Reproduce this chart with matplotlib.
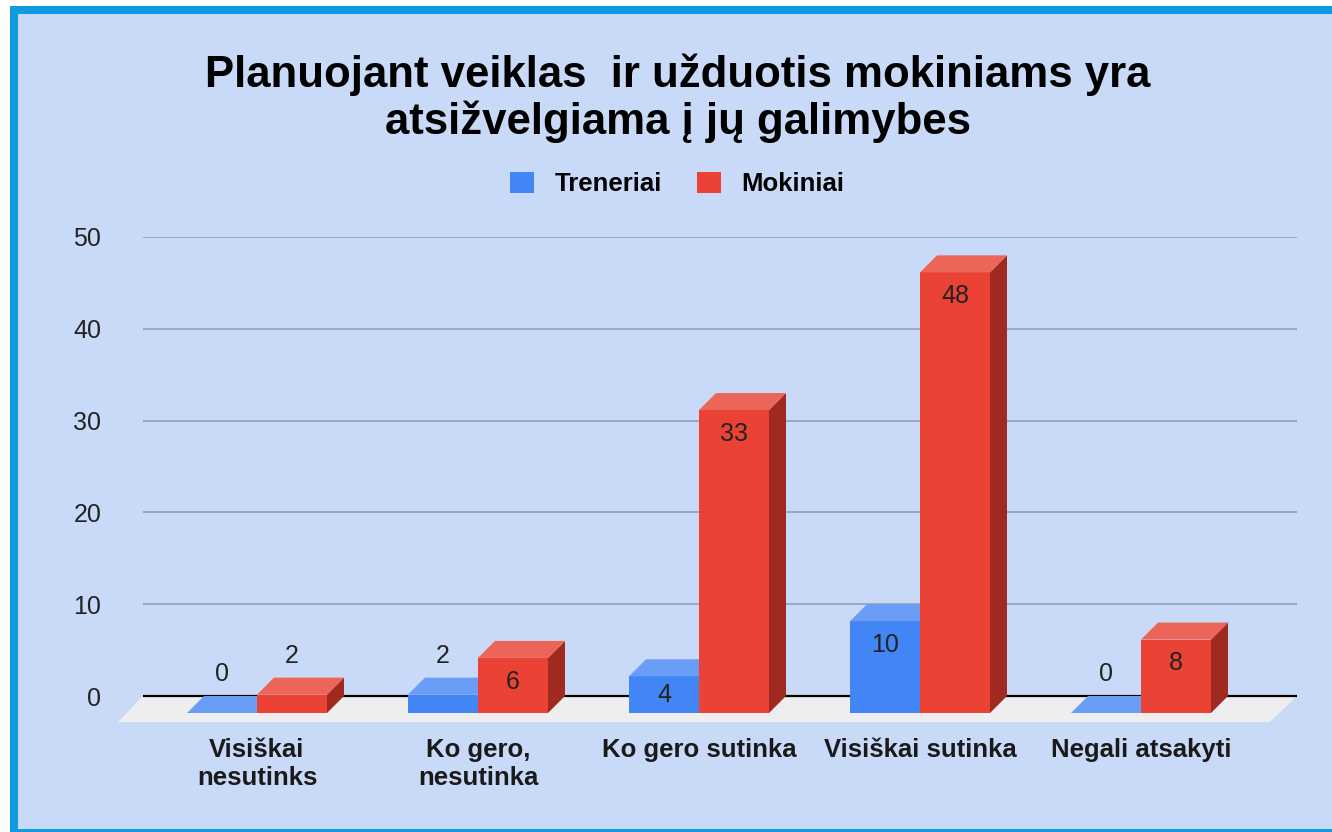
import matplotlib
matplotlib.use("Agg")
import matplotlib.pyplot as plt
from matplotlib.patches import Polygon, Rectangle, Patch
import numpy as np

plt.rcParams['font.family'] = ['Liberation Sans', 'DejaVu Sans']

# Chart data
categories = ['Visiškai\nnesutinks', 'Ko gero,\nnesutinka', 'Ko gero sutinka',
              'Visiškai sutinka', 'Negali atsakyti']
series_names = ['Treneriai', 'Mokiniai']
treneriai = [0, 2, 4, 10, 0]
mokiniai = [2, 6, 33, 48, 8]
y_ticks = [0, 10, 20, 30, 40, 50]
title = 'Planuojant veiklas  ir užduotis mokiniams yra\natsižvelgiama į jų galimybes'

# Colours: front, top, side
BLUE = ('#4285f4', '#6a9ef6', '#2f64bf')
RED = ('#ea4335', '#ec6558', '#a12a20')
BG = '#c9daf8'
FRAME = '#0f9be0'

W, H = 1332, 832
fig = plt.figure(figsize=(W / 100, H / 100), dpi=100)
fig.patch.set_facecolor('white')

# frame (cropped at right and bottom like the screenshot)
fig.patches.append(Rectangle((10 / W, -0.1), 1.2, (832 - 6) / H + 0.1,
                             transform=fig.transFigure, facecolor=FRAME,
                             edgecolor='none', zorder=-10))
fig.patches.append(Rectangle((18 / W, 3 / H), 1.2, (829 - 14) / H,
                             transform=fig.transFigure, facecolor=BG,
                             edgecolor='none', zorder=-9))

# axes = back plane of the 3D chart
ax_l, ax_r, ax_t, ax_b = 143, 1297, 237, 696
ax = fig.add_axes([ax_l / W, (H - ax_b) / H, (ax_r - ax_l) / W, (ax_b - ax_t) / H])
ax.set_facecolor('none')
ax.set_zorder(1)

px_x = 221.0           # pixels per category
px_y = (ax_b - ax_t) / 50.0
x0_px = 257            # pixel of first group centre (front plane)
ax.set_xlim((ax_l - x0_px) / px_x, (ax_r - x0_px) / px_x)
ax.set_ylim(0, 50)

for s in ax.spines.values():
    s.set_visible(False)
ax.set_xticks([])
ax.set_yticks(y_ticks)
ax.tick_params(axis='y', length=0, pad=30, labelsize=18, labelcolor='#222222')

for t in y_ticks[1:]:
    ax.axhline(t, color='#97a3ba', lw=1.3, zorder=1)

# floor
fdx = 25 / px_x
fdy = 26 / px_y
xl, xr = ax.get_xlim()
floor = Polygon([(xl - fdx, -fdy), (xr - 27 / px_x, -fdy), (xr, 0), (xl, 0)],
                closed=True, facecolor='#eeeeee', edgecolor='none',
                clip_on=False, zorder=2)
ax.add_patch(floor)
ax.plot([xl, xr], [0, 0], color='black', lw=1.6, clip_on=False, zorder=3,
        solid_capstyle='butt')

# bars
bw = 70 / px_x
ddx = 17 / px_x
ddy = 17 / px_y
x = np.arange(len(categories))


def draw_bar(xl0, v, cols):
    xr0 = xl0 + bw
    front = [(xl0, -ddy), (xr0, -ddy), (xr0, v - ddy), (xl0, v - ddy)]
    top = [(xl0, v - ddy), (xr0, v - ddy), (xr0 + ddx, v), (xl0 + ddx, v)]
    side = [(xr0, -ddy), (xr0 + ddx, 0), (xr0 + ddx, v), (xr0, v - ddy)]
    for pts, c in ((side, cols[2]), (front, cols[0]), (top, cols[1])):
        ax.add_patch(Polygon(pts, closed=True, facecolor=c, edgecolor='none',
                             clip_on=False, zorder=4))
    cx = xl0 + bw / 2
    if v * px_y >= 30:
        ly = max(v - ddy - 2.6, v / 2 - ddy)
    else:
        ly = v + 2.4
    ax.text(cx, ly, str(v), ha='center', va='center', fontsize=18,
            color='#222222', zorder=6, clip_on=False)


for i in range(len(categories)):
    draw_bar(x[i] - bw, treneriai[i], BLUE)
    draw_bar(x[i], mokiniai[i], RED)

# category labels
for i, lab in enumerate(categories):
    ax.text(x[i], -4.6, lab, ha='center', va='top', fontsize=18.5,
            fontweight='bold', color='#1a1a1a', linespacing=1.2, clip_on=False)

fig.text(678 / W, 1 - 98 / H, title, ha='center', va='center', fontsize=31.5,
         fontweight='bold', color='black', linespacing=1.12)

handles = [Patch(facecolor=BLUE[0], label=series_names[0]),
           Patch(facecolor=RED[0], label=series_names[1])]
fig.legend(handles=handles, loc='center', bbox_to_anchor=(677 / W, 1 - 184 / H),
           ncol=2, frameon=False, prop={'weight': 'bold', 'size': 18.5},
           handlelength=0.93, handleheight=0.93, handletextpad=0.8,
           columnspacing=1.36)

fig.savefig('out.png', dpi=100, facecolor=fig.get_facecolor())
